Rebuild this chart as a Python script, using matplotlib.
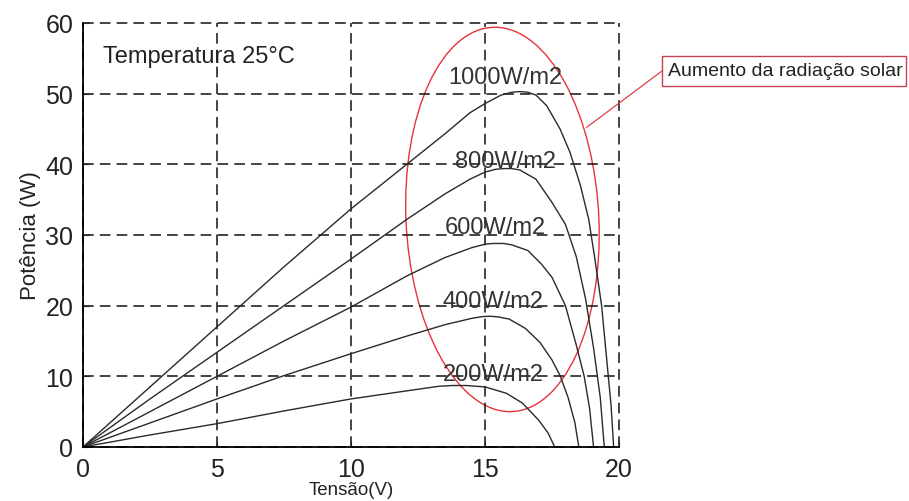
import matplotlib
matplotlib.use('Agg')
import matplotlib.pyplot as plt
from matplotlib.patches import Ellipse, Rectangle
from matplotlib.lines import Line2D

plt.rcParams['font.family'] = ['Liberation Sans', 'DejaVu Sans']

# P-V curves (voltage V, power W)
v_1000 = [0, 2.5, 5, 7.5, 10, 12.08, 13.5, 14.44, 15, 15.6, 16.0, 16.3, 16.6, 16.9, 17.3, 17.8, 18.17, 18.56, 18.87, 19.1, 19.35, 19.55, 19.7, 19.8]
p_1000 = [0, 8.5, 17, 25.5, 33.7, 40, 44.3, 47.3, 48.6, 49.8, 50.2, 50.3, 50.2, 49.8, 48.3, 45, 41.7, 37, 32.2, 26.6, 20, 12, 6, 0]

v_800 = [0, 2.5, 5, 7.5, 10, 12.08, 13.5, 14.44, 15, 15.4, 15.7, 16.0, 16.3, 16.9, 17.5, 18.0, 18.4, 18.75, 19.05, 19.3, 19.45]
p_800 = [0, 6.8, 13.4, 20, 26.6, 32.2, 35.8, 37.9, 38.9, 39.3, 39.4, 39.4, 39.2, 37.9, 34.6, 31.5, 27, 21, 14, 7, 0]

v_600 = [0, 2.5, 5, 7.5, 10, 12.08, 13.5, 14.5, 15.0, 15.3, 15.7, 16, 16.6, 17.1, 17.5, 18, 18.4, 18.7, 18.9, 19.05]
p_600 = [0, 5, 10, 15, 19.8, 24.2, 26.8, 28.2, 28.7, 28.8, 28.8, 28.6, 27.8, 25.9, 24, 20, 14.5, 10, 5.5, 0]

v_400 = [0, 2.5, 5, 7.5, 10, 12, 13.5, 14.5, 14.9, 15.2, 15.5, 15.9, 16.5, 17.05, 17.5, 17.8, 18.1, 18.35, 18.5]
p_400 = [0, 3.4, 6.8, 10.1, 13.2, 15.6, 17.3, 18.2, 18.45, 18.5, 18.4, 18.1, 16.8, 14.8, 12.3, 10.1, 7, 3.5, 0]

v_200 = [0, 2.5, 5, 7.5, 10, 12, 13.3, 13.8, 14.3, 15, 15.8, 16.4, 17.0, 17.35, 17.6]
p_200 = [0, 1.7, 3.3, 5.1, 6.8, 7.9, 8.6, 8.7, 8.7, 8.5, 7.6, 6.2, 3.8, 2, 0]

curve_labels = ['1000W/m2', '800W/m2', '600W/m2', '400W/m2', '200W/m2']
label_v = [15.75, 15.75, 15.4, 15.3, 15.3]
label_p = [52.3, 40.5, 31.1, 20.7, 10.3]

fig = plt.figure(figsize=(9.09, 5.02), dpi=100)
ax = fig.add_axes([0.0913, 0.1076, 0.5897, 0.8446])

curves = [(v_1000, p_1000), (v_800, p_800), (v_600, p_600), (v_400, p_400), (v_200, p_200)]
for v, p in curves:
    ax.plot(v, p, color='#2a2a2a', linewidth=1.0)

for txt, x, y in zip(curve_labels, label_v, label_p):
    ax.text(x, y, txt, ha='center', va='center', fontsize=17, color='#333333')

ax.text(0.75, 55.3, 'Temperatura 25°C', ha='left', va='center', fontsize=17, color='#222222')

ax.set_xlim(0, 20)
ax.set_ylim(0, 60)
ax.set_xticks([0, 5, 10, 15, 20])
ax.set_yticks([0, 10, 20, 30, 40, 50, 60])
ax.grid(True, color='#111111', linestyle=(0, (7, 4)), linewidth=1.1)
ax.spines['top'].set_visible(False)
ax.spines['right'].set_visible(False)
ax.spines['left'].set_linewidth(1.3)
ax.spines['bottom'].set_linewidth(1.3)
ax.tick_params(axis='both', direction='in', length=4, labelsize=18, colors='#222222')
ax.tick_params(axis='x', pad=7)
ax.tick_params(axis='y', pad=7)
for g in ax.get_xgridlines() + ax.get_ygridlines():
    g.set_clip_on(False)

ax.set_xlabel('Tensão(V)', fontsize=13.5, labelpad=0, color='#222222')
ax.set_ylabel('Potência (W)', fontsize=16, labelpad=3, color='#222222')

# red ellipse around the maximum power points
ell = Ellipse((15.65, 32.2), width=7.2, height=54.4, angle=0.6, fill=False,
              edgecolor='#e8323c', linewidth=1.0, clip_on=False)
ax.add_patch(ell)

# callout box and connector
fig.add_artist(Line2D([586.7 / 909, 662 / 909], [1 - 128.3 / 502, 1 - 72 / 502],
                      color='#e0404a', linewidth=0.9, transform=fig.transFigure))
fig.add_artist(Rectangle((662 / 909, 1 - 87 / 502), 244 / 909, 30 / 502, fill=False,
                         edgecolor='#c8404e', linewidth=1.0, transform=fig.transFigure))
fig.text(668 / 909, 1 - 72 / 502, 'Aumento da radiação solar', ha='left', va='center',
         fontsize=14, color='#222222')

fig.savefig('out.png', dpi=100)
